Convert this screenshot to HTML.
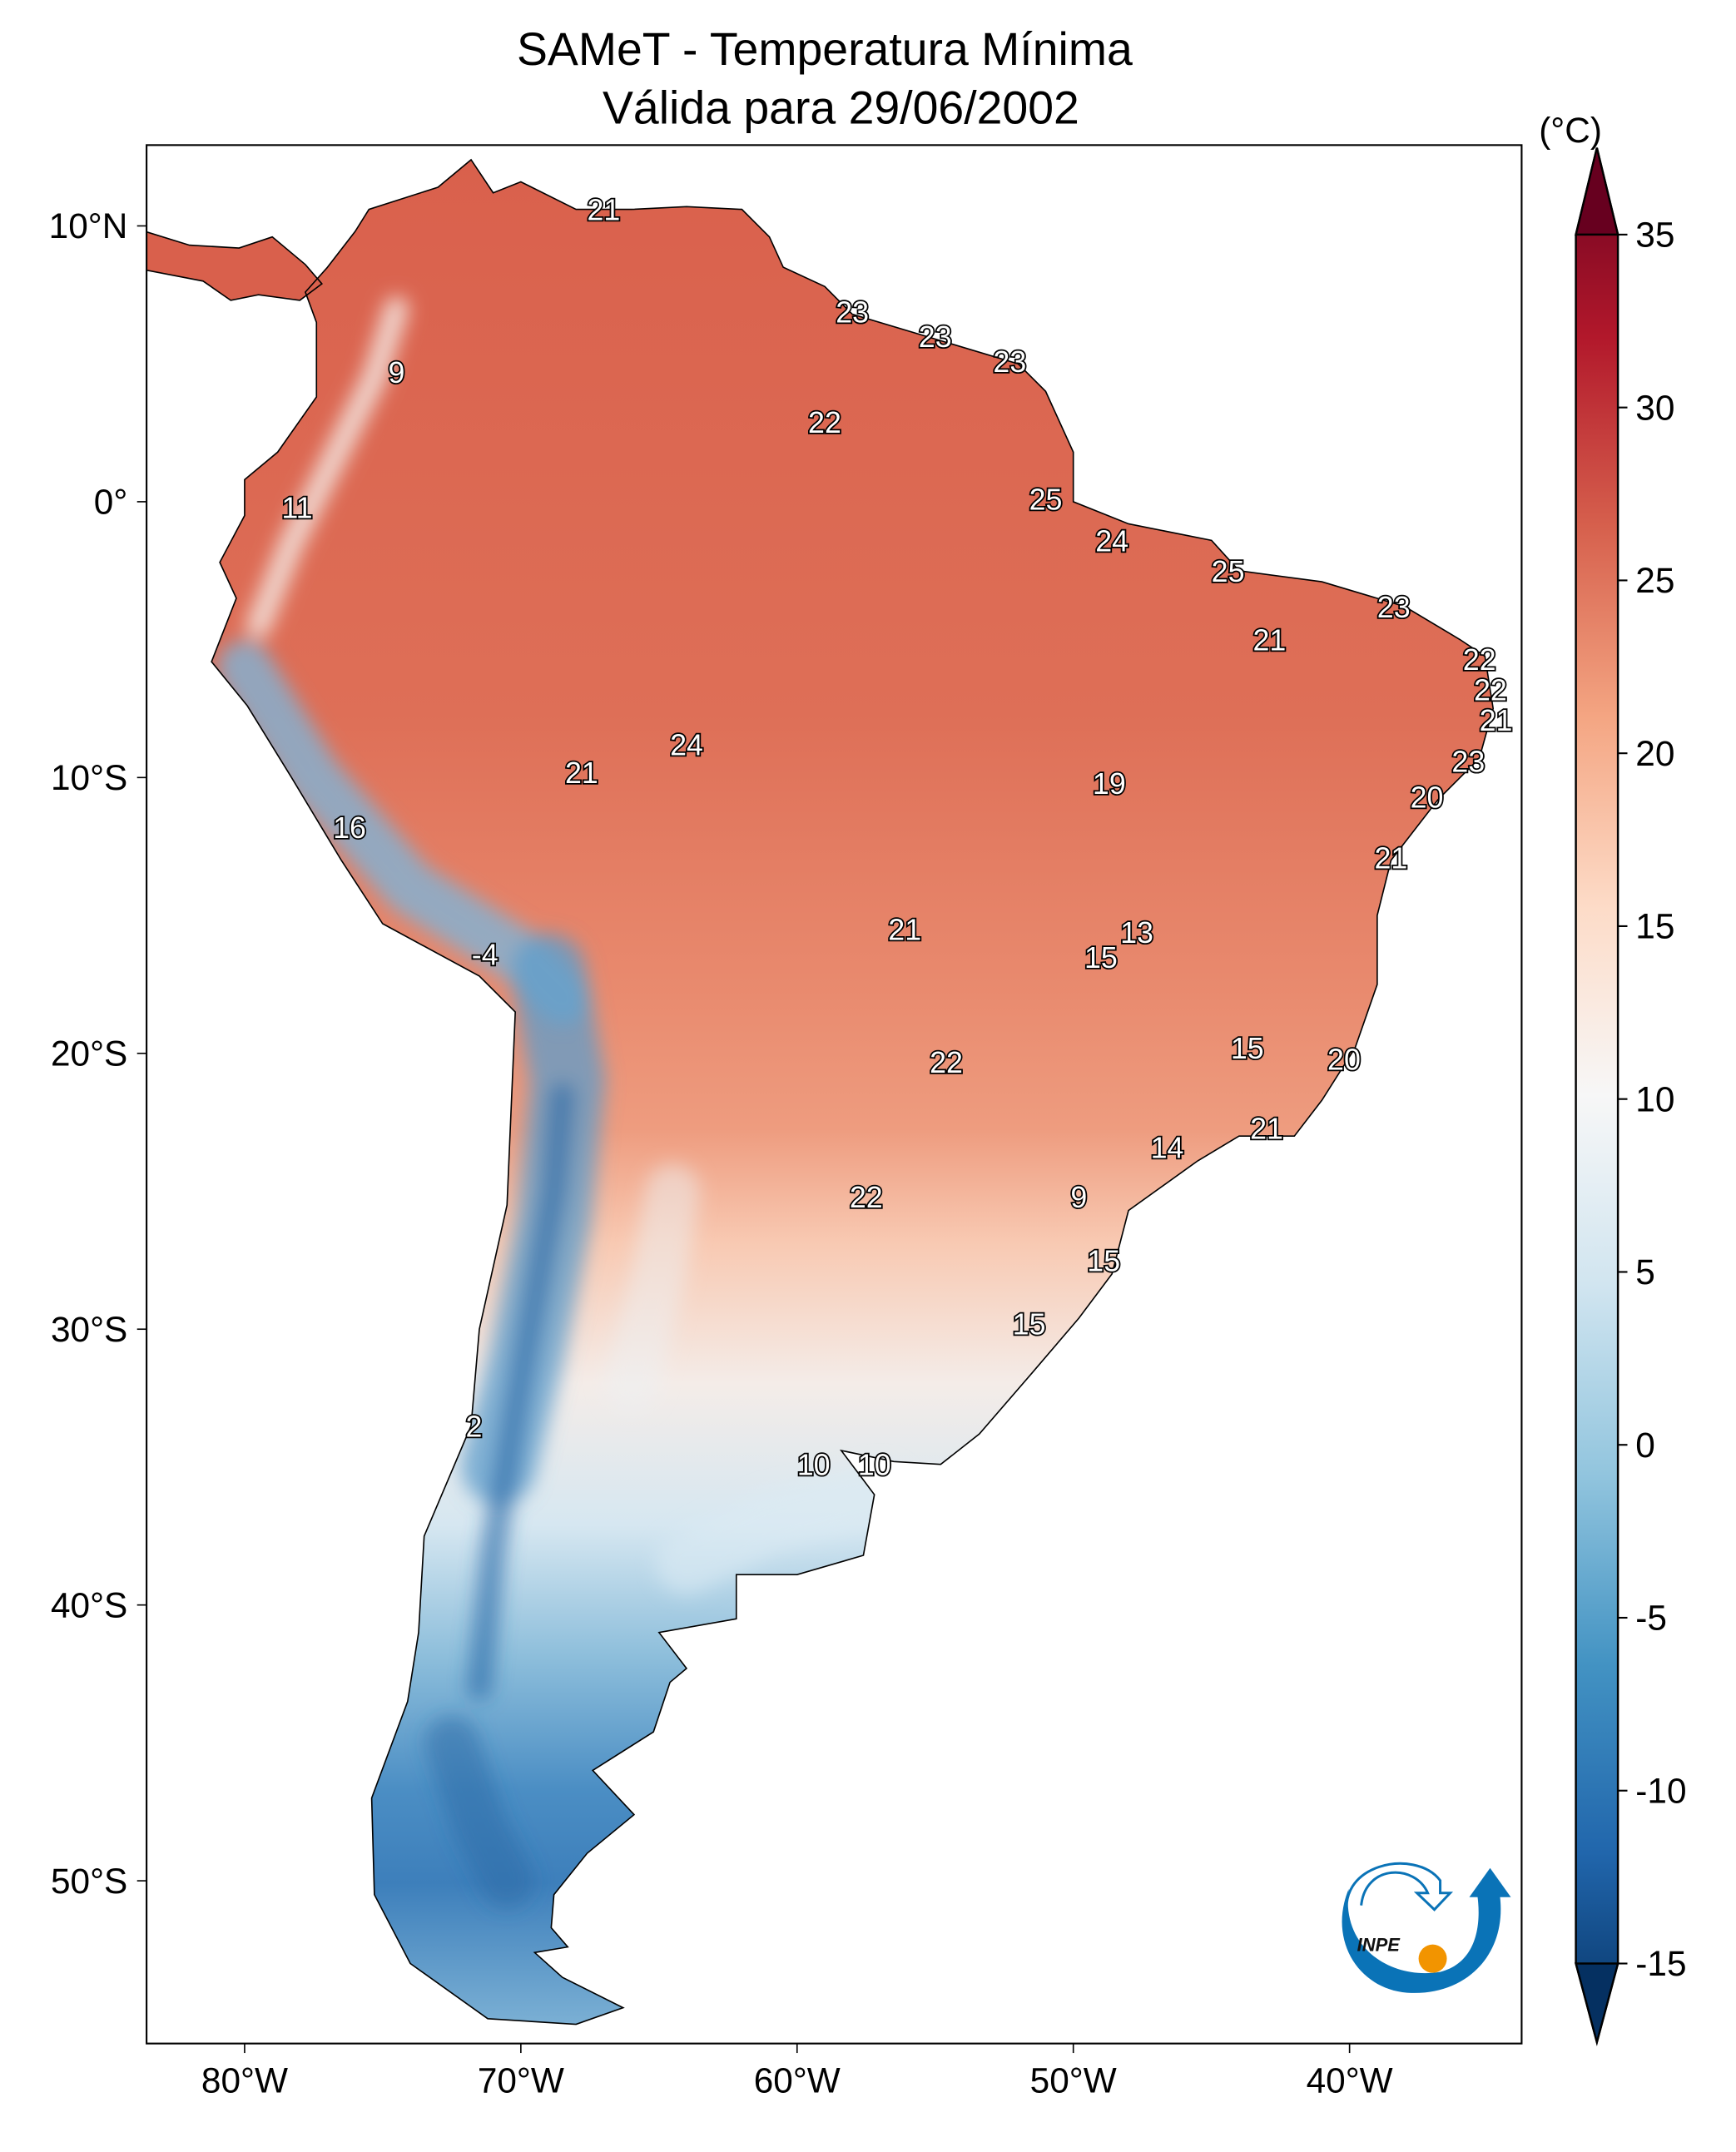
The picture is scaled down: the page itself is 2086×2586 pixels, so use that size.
<!DOCTYPE html>
<html><head><meta charset="utf-8"><style>
html,body{margin:0;padding:0;background:#fff}
svg{display:block}
text{font-family:"Liberation Sans","DejaVu Sans",sans-serif}
</style></head><body>
<svg id="fig" width="2086" height="2586" viewBox="0 0 1280 1587" xmlns="http://www.w3.org/2000/svg">
<defs>
<linearGradient id="cbg" x1="0" y1="1" x2="0" y2="0">
<stop offset="0" stop-color="#053061"/><stop offset="0.1" stop-color="#2166ac"/><stop offset="0.2" stop-color="#4393c3"/><stop offset="0.3" stop-color="#92c5de"/><stop offset="0.4" stop-color="#d1e5f0"/><stop offset="0.5" stop-color="#f7f7f7"/><stop offset="0.6" stop-color="#fddbc7"/><stop offset="0.7" stop-color="#f4a582"/><stop offset="0.8" stop-color="#d6604d"/><stop offset="0.9" stop-color="#b2182b"/><stop offset="1" stop-color="#67001f"/>
</linearGradient>
<linearGradient id="mapg" gradientUnits="userSpaceOnUse" x1="0" y1="110" x2="0" y2="1500">
<stop offset="0" stop-color="#d9604c"/><stop offset="0.3" stop-color="#de6f57"/><stop offset="0.45" stop-color="#e98b6f"/><stop offset="0.52" stop-color="#ee9c7f"/><stop offset="0.58" stop-color="#f8c9b2"/><stop offset="0.655" stop-color="#f4ece8"/><stop offset="0.73" stop-color="#d6e7f1"/><stop offset="0.8" stop-color="#8dbedb"/><stop offset="0.87" stop-color="#4b8ec4"/><stop offset="0.92" stop-color="#3d7fbb"/><stop offset="1" stop-color="#7fb3d6"/>
</linearGradient>
<filter id="blur" x="-20%" y="-20%" width="140%" height="140%"><feGaussianBlur stdDeviation="7"/></filter>
<clipPath id="mclip"><path id="clipPath"/></clipPath>
<clipPath id="frameclip"><rect x="108" y="107" width="1014" height="1400"/></clipPath>
</defs>
<text x="608" y="48" font-size="34" text-anchor="middle">SAMeT - Temperatura Mínima</text>
<text x="620" y="91" font-size="34" text-anchor="middle">Válida para 29/06/2002</text>
<g clip-path="url(#frameclip)">
<path id="land" fill="url(#mapg)" stroke="none"/>
<path id="camerica" fill="#d9604c" stroke="#000" stroke-width="1"/>
<g clip-path="url(#mclip)"><g id="overlay" filter="url(#blur)"></g></g>
<path id="coastline" fill="none" stroke="#000" stroke-width="1"/>
</g>
<rect x="108" y="107" width="1014" height="1400" fill="none" stroke="#000" stroke-width="1.3"/>
<g id="axes"></g>
<g id="labels"></g>
<g id="cbar">
<path d="M1162,173 L1177.5,109 L1193,173 L1193,1448 L1177.5,1506 L1162,1448 Z" fill="url(#cbg)" stroke="#000" stroke-width="1.5"/>
<path d="M1162,173 L1177.5,109 L1193,173 Z" fill="#67001f" stroke="#000" stroke-width="1.5"/>
<path d="M1162,1448 L1177.5,1506 L1193,1448 Z" fill="#053061" stroke="#000" stroke-width="1.5"/>
</g>
<text x="1158" y="105" font-size="26" text-anchor="middle">(°C)</text>
<g id="logo" transform="translate(970,1350) scale(0.613)">
<path d="M40,70 C30,140 90,180 150,170 C190,160 200,120 195,80 L185,80 L210,45 L235,80 L222,80 C230,150 180,200 110,195 C50,190 15,130 40,70Z" fill="#0a73b7"/>
<path d="M40,110 C20,40 120,20 150,60 L150,75 L162,75 L143,95 L122,75 L135,75 C120,40 60,40 55,90" fill="none" stroke="#0a73b7" stroke-width="3"/>
<circle cx="141" cy="154" r="17" fill="#f29400"/>
<text x="50" y="145" font-size="22" font-style="italic" font-weight="bold" fill="#111">INPE</text>
</g>
</svg>
<script>
const NS="http://www.w3.org/2000/svg";
const latTicks=[10,0,-10,-20,-30,-40,-50];
const latTickLabels=["10°N","0°","10°S","20°S","30°S","40°S","50°S"];
const lonTicks=[-80,-70,-60,-50,-40];
const lonTickLabels=["80°W","70°W","60°W","50°W","40°W"];
const cbTicks=[35,30,25,20,15,10,5,0,-5,-10,-15];
const labelLon=[-67,-58,-55,-52.3,-74.5,-59,-51,-78.1,-48.6,-44.4,-38.4,-42.9,-35.3,-34.9,-34.7,-64,-35.7,-67.8,-48.7,-37.2,-38.5,-76.2,-56.1,-47.7,-71.3,-49,-43.7,-40.2,-54.6,-43,-46.6,-49.8,-57.5,-48.9,-51.6,-71.7,-59.4,-57.2];
const labelLat=[10.6,6.9,6,5.1,4.7,2.9,0.1,-0.2,-1.4,-2.5,-3.8,-5,-5.7,-6.8,-7.9,-8.8,-9.4,-9.8,-10.2,-10.7,-12.9,-11.8,-15.5,-15.6,-16.4,-16.5,-19.8,-20.2,-20.3,-22.7,-23.4,-25.2,-25.2,-27.5,-29.8,-33.5,-34.9,-34.9];
const labelVal=[21,23,23,23,9,22,25,11,24,25,23,21,22,22,21,24,23,21,19,20,21,16,21,13,-4,15,15,20,22,21,14,9,22,15,15,2,10,10];
const coast=[[-77,8.5],[-76,9.8],[-75.5,10.6],[-73,11.4],[-71.8,12.4],[-71,11.2],[-70,11.6],[-68,10.6],[-66,10.6],[-64,10.7],[-62,10.6],[-61,9.6],[-60.5,8.5],[-59,7.8],[-58,6.8],[-55,5.9],[-52,5],[-51,4],[-50,1.8],[-50,0],[-48,-0.8],[-45,-1.4],[-44,-2.5],[-41,-2.9],[-38,-3.8],[-36,-5],[-35.1,-5.6],[-34.8,-7.5],[-35.3,-9.3],[-36.8,-10.8],[-38.5,-13],[-39,-15],[-39,-17.5],[-39.8,-19.8],[-41,-21.7],[-42,-23],[-44,-23],[-45.5,-23.9],[-48,-25.7],[-48.6,-28],[-49.8,-29.6],[-51.5,-31.6],[-53.4,-33.8],[-54.8,-34.9],[-56.5,-34.8],[-58.4,-34.4],[-57.2,-36],[-57.6,-38.2],[-60,-38.9],[-62.2,-38.9],[-62.2,-40.5],[-65,-41],[-64,-42.3],[-64.6,-42.8],[-65.2,-44.6],[-67.4,-46],[-65.9,-47.6],[-67.6,-49],[-68.8,-50.5],[-68.9,-51.7],[-68.3,-52.4],[-69.5,-52.6],[-68.5,-53.5],[-66.3,-54.6],[-68,-55.2],[-71.2,-55],[-74,-53],[-75.3,-50.5],[-75.4,-47],[-74.1,-43.5],[-73.7,-41],[-73.5,-37.5],[-71.8,-33.5],[-71.5,-30],[-70.5,-25.5],[-70.2,-18.5],[-71.5,-17.2],[-75,-15.3],[-76.5,-13],[-78.3,-10],[-79.9,-7.4],[-81.2,-5.8],[-80.3,-3.5],[-80.9,-2.2],[-80,-0.5],[-80,0.8],[-78.8,1.8],[-77.4,3.8],[-77.4,6.5],[-77.8,7.6]];
const camerica=[[-83.6,9.8],[-82,9.3],[-80.2,9.2],[-79,9.6],[-77.8,8.6],[-77.2,7.9],[-78,7.3],[-79.5,7.5],[-80.5,7.3],[-81.5,8],[-83.6,8.4]];
const X=lon=>384+(lon+70)*20.37;
const Y=lat=>370-lat*20.34;
const CY=v=>173+(35-v)*25.5;
function pathOf(pts){return pts.map((p,i)=>(i?"L":"M")+X(p[0]).toFixed(1)+","+Y(p[1]).toFixed(1)).join(" ")+"Z";}
document.getElementById('land').setAttribute('d',pathOf(coast));
document.getElementById('coastline').setAttribute('d',pathOf(coast));
document.getElementById('clipPath').setAttribute('d',pathOf(coast));
document.getElementById('camerica').setAttribute('d',pathOf(camerica));
const ov=document.getElementById('overlay');
function band(pts,color,w,op,name){const p=document.createElementNS(NS,'path');
p.setAttribute('d',pts.map((q,i)=>(i?"L":"M")+X(q[0])+","+Y(q[1])).join(" "));
p.setAttribute('fill','none');p.setAttribute('stroke',color);p.setAttribute('stroke-width',w);p.setAttribute('stroke-opacity',op);p.setAttribute('stroke-linecap','round');p.setAttribute('stroke-linejoin','round');


ov.appendChild(p);}
band([[-74.5,7],[-75.3,4.5],[-76.8,1.5],[-78.3,-1.5],[-79.5,-4.5]],"#f5eeea",18,0.8,'andes-north-band');
band([[-80,-6],[-77.5,-10],[-74,-14],[-70,-16.5],[-68.5,-18]],"#7fb3d6",40,0.8,'peru-andes-band');
band([[-69,-17],[-68.3,-21],[-68.8,-26],[-69.8,-31],[-70.8,-35]],"#5d9ccb",55,0.75,'andes-central-band');
band([[-68.5,-21.5],[-68.8,-25],[-69.5,-29],[-70.2,-33],[-71,-38],[-71.5,-43]],"#2b6aa8",18,0.65,'andes-cold-core');
band([[-72.5,-45],[-71.5,-48],[-70.5,-50]],"#2c6aa6",40,0.5,'patagonia-cold');
band([[-64.5,-25],[-65,-28],[-66,-32]],"#eef0f2",40,0.5,'andes-foothills');
band([[-57,-36],[-61,-37],[-64,-38.5]],"#dcebf4",45,0.6,'pampas-band');
const ax=document.getElementById('axes');
latTicks.forEach((v,i)=>{const l=document.createElementNS(NS,'line');l.setAttribute('x1',101);l.setAttribute('x2',108);l.setAttribute('y1',Y(v));l.setAttribute('y2',Y(v));l.setAttribute('stroke','#000');

ax.appendChild(l);
const t=document.createElementNS(NS,'text');t.setAttribute('x',94);t.setAttribute('y',Y(v)+9);t.setAttribute('font-size',26);t.setAttribute('text-anchor','end');t.textContent=latTickLabels[i];

ax.appendChild(t);});
lonTicks.forEach((v,i)=>{const l=document.createElementNS(NS,'line');l.setAttribute('x1',X(v));l.setAttribute('x2',X(v));l.setAttribute('y1',1507);l.setAttribute('y2',1514);l.setAttribute('stroke','#000');

ax.appendChild(l);
const t=document.createElementNS(NS,'text');t.setAttribute('x',X(v));t.setAttribute('y',1543);t.setAttribute('font-size',26);t.setAttribute('text-anchor','middle');t.textContent=lonTickLabels[i];

ax.appendChild(t);});
const cb=document.getElementById('cbar');
cbTicks.forEach(v=>{const l=document.createElementNS(NS,'line');l.setAttribute('x1',1193);l.setAttribute('x2',1200);l.setAttribute('y1',CY(v));l.setAttribute('y2',CY(v));l.setAttribute('stroke','#000');l.setAttribute('stroke-width',1.3);

cb.appendChild(l);
const t=document.createElementNS(NS,'text');t.setAttribute('x',1206);t.setAttribute('y',CY(v)+9);t.setAttribute('font-size',26);t.textContent=String(v);

cb.appendChild(t);});
const lg=document.getElementById('labels');
labelVal.forEach((v,i)=>{const t=document.createElementNS(NS,'text');t.setAttribute('x',X(labelLon[i]));t.setAttribute('y',Y(labelLat[i])+8);t.setAttribute('font-size',22);t.setAttribute('text-anchor','middle');t.setAttribute('fill','#fff');t.setAttribute('stroke','#000');t.setAttribute('stroke-width',2.2);t.setAttribute('paint-order','stroke');t.textContent=String(v);

lg.appendChild(t);});
</script>
</body></html>
